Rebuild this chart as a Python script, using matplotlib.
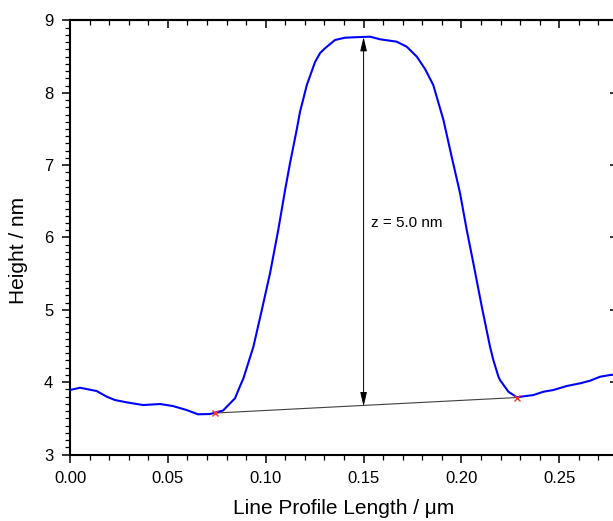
import matplotlib
matplotlib.use('Agg')
import matplotlib.pyplot as plt
from matplotlib.ticker import MultipleLocator, FormatStrFormatter
from matplotlib.patches import FancyArrowPatch

plt.rcParams['font.family'] = ['Liberation Sans', 'DejaVu Sans']

# line profile (x in um, height in nm)
profile_x = [0.0, 0.0051, 0.0136, 0.0188, 0.0230, 0.0290, 0.0373, 0.0460, 0.0526,
             0.0596, 0.0654, 0.0715, 0.0741, 0.0782, 0.0826, 0.0843, 0.0869, 0.0886,
             0.0937, 0.0980, 0.1022, 0.1064, 0.1099, 0.1124, 0.1158, 0.1175, 0.1210,
             0.1252, 0.1278, 0.1303, 0.1354, 0.1405, 0.1456, 0.1533, 0.1584, 0.1669,
             0.1720, 0.1772, 0.1814, 0.1856, 0.1908, 0.1950, 0.1993, 0.2027, 0.2061,
             0.2104, 0.2146, 0.2163, 0.2189, 0.2197, 0.2240, 0.2283, 0.2367, 0.2419,
             0.2470, 0.2538, 0.2606, 0.2657, 0.2708, 0.2759, 0.2800]
profile_h = [3.892, 3.923, 3.878, 3.799, 3.753, 3.721, 3.684, 3.698, 3.670,
             3.615, 3.556, 3.560, 3.578, 3.608, 3.730, 3.777, 3.947, 4.053,
             4.490, 4.998, 5.505, 6.104, 6.657, 7.026, 7.486, 7.735, 8.108,
             8.426, 8.551, 8.616, 8.730, 8.762, 8.768, 8.776, 8.740, 8.707,
             8.638, 8.500, 8.329, 8.108, 7.624, 7.117, 6.611, 6.104, 5.643,
             5.043, 4.490, 4.306, 4.075, 4.030, 3.868, 3.792, 3.822, 3.868,
             3.892, 3.947, 3.984, 4.020, 4.075, 4.099, 4.110]

# baseline end points (red crosses)
base_x = [0.0741, 0.2284]
base_h = [3.573, 3.788]

# height arrow
arrow_x = 0.15
arrow_bottom = 3.665
arrow_top = 8.772
arrow_label = "z = 5.0 nm"

fig = plt.figure(figsize=(6.13, 5.21), dpi=100)
ax = fig.add_axes([0.1142, 0.1276, 0.894, 0.8331])

ax.plot(profile_x, profile_h, '-', color='#0000ff', lw=1.5, zorder=3)
ax.plot(base_x, base_h, '-', color='#404040', lw=0.8, zorder=2)
ax.plot(base_x, base_h, 'x', color='#ff3030', ms=5, mew=1.0, ls='none', zorder=4)

arr = FancyArrowPatch((arrow_x, arrow_bottom), (arrow_x, arrow_top),
                      arrowstyle='<|-|>,head_length=0.85,head_width=0.2',
                      mutation_scale=10, color='black', lw=0.7,
                      shrinkA=0, shrinkB=0, zorder=5)
ax.add_patch(arr)
ax.text(0.1536, 6.2, arrow_label, fontsize=11, ha='left', va='center')

ax.set_xlim(0, 0.28)
ax.set_ylim(3, 9)

ax.xaxis.set_major_locator(MultipleLocator(0.05))
ax.xaxis.set_minor_locator(MultipleLocator(0.01))
ax.xaxis.set_major_formatter(FormatStrFormatter('%.2f'))
ax.yaxis.set_major_locator(MultipleLocator(1))
ax.yaxis.set_minor_locator(MultipleLocator(0.1))

for s in ax.spines.values():
    s.set_linewidth(1.5)

ax.tick_params(which='major', direction='out', length=6, width=1.1, labelsize=12, pad=6)
ax.tick_params(which='minor', direction='out', length=3.3, width=0.9)

top = ax.secondary_xaxis('top')
top.xaxis.set_major_locator(MultipleLocator(0.05))
top.xaxis.set_minor_locator(MultipleLocator(0.01))
top.tick_params(which='major', direction='in', length=6, width=1.1, labeltop=False)
top.tick_params(which='minor', direction='in', length=3.3, width=0.9)
top.spines['top'].set_linewidth(1.5)

right = ax.secondary_yaxis('right')
right.yaxis.set_major_locator(MultipleLocator(1))
right.tick_params(which='major', direction='in', length=6, width=1.1, labelright=False)
right.tick_params(which='minor', length=0)
right.spines['right'].set_linewidth(1.5)

ax.set_xlabel('Line Profile Length / μm', fontsize=15, labelpad=9)
ax.set_ylabel('Height / nm', fontsize=15)
ax.yaxis.set_label_coords(-0.077, 0.47)

plt.savefig('out.png', dpi=100)
